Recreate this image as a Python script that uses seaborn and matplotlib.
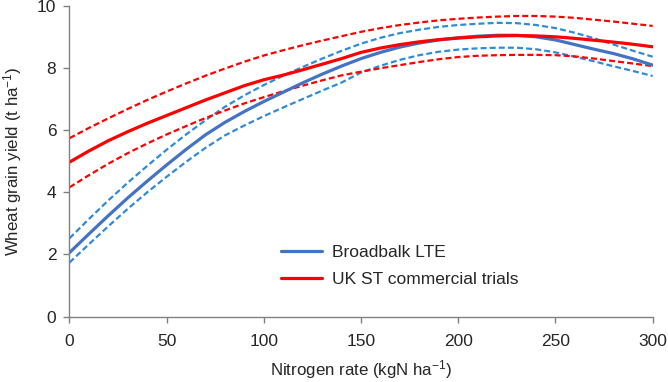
import numpy as np
import pandas as pd
import matplotlib
matplotlib.use('Agg')
import matplotlib.pyplot as plt
import seaborn as sns

# Nitrogen rate (kgN/ha) and yield curves
nitrogen = list(range(0, 301, 10))

broadbalk_mean = [2.06, 2.66, 3.25, 3.82, 4.36, 4.88, 5.38, 5.85, 6.25, 6.6,
                  6.92, 7.22, 7.52, 7.8, 8.06, 8.3, 8.5, 8.67, 8.8, 8.9,
                  8.97, 9.02, 9.05, 9.05, 9.0, 8.9, 8.75, 8.6, 8.46, 8.29, 8.09]
broadbalk_upper = [2.52, 3.14, 3.74, 4.31, 4.85, 5.37, 5.86, 6.32, 6.75, 7.12,
                   7.45, 7.75, 8.03, 8.3, 8.55, 8.78, 8.97, 9.12, 9.23, 9.32,
                   9.38, 9.42, 9.45, 9.44, 9.38, 9.28, 9.13, 8.95, 8.75, 8.55, 8.36]
broadbalk_lower = [1.74, 2.33, 2.91, 3.47, 4.0, 4.5, 4.98, 5.43, 5.83, 6.15,
                   6.45, 6.73, 7.0, 7.27, 7.53, 7.85, 8.07, 8.26, 8.41, 8.52,
                   8.59, 8.63, 8.65, 8.65, 8.6, 8.5, 8.36, 8.21, 8.05, 7.9, 7.74]

trials_mean = [4.97, 5.33, 5.66, 5.95, 6.22, 6.47, 6.72, 6.97, 7.2, 7.43,
               7.62, 7.77, 7.94, 8.12, 8.3, 8.5, 8.64, 8.75, 8.84, 8.91,
               8.96, 9.0, 9.03, 9.04, 9.03, 9.0, 8.95, 8.89, 8.83, 8.76, 8.68]
trials_upper = [5.74, 6.07, 6.38, 6.68, 6.97, 7.24, 7.5, 7.75, 7.98, 8.2,
                8.4, 8.57, 8.73, 8.88, 9.02, 9.16, 9.28, 9.38, 9.46, 9.53,
                9.58, 9.62, 9.65, 9.67, 9.67, 9.65, 9.61, 9.55, 9.49, 9.42, 9.35]
trials_lower = [4.16, 4.55, 4.92, 5.26, 5.57, 5.86, 6.13, 6.39, 6.63, 6.86,
                7.06, 7.25, 7.43, 7.6, 7.76, 7.88, 7.99, 8.09, 8.19, 8.28,
                8.35, 8.39, 8.41, 8.42, 8.42, 8.41, 8.37, 8.3, 8.22, 8.14, 8.06]

blue_solid = '#4472C4'
blue_dash = '#2F8BD8'
red = '#FF0000'

sns.set_style('ticks')
plt.rcParams['font.family'] = ['Liberation Sans', 'DejaVu Sans']
plt.rcParams['mathtext.fontset'] = 'custom'
plt.rcParams['mathtext.rm'] = 'Liberation Sans'
plt.rcParams['mathtext.it'] = 'Liberation Sans'
plt.rcParams['mathtext.default'] = 'rm'

fig = plt.figure(figsize=(6.68, 3.82), dpi=100)
ax = fig.add_axes([0.104, 0.171, 0.873, 0.814])

dash = (2.7, 1.4)
curves = [
    (broadbalk_upper, blue_dash, 1.6, dash, None),
    (broadbalk_lower, blue_dash, 1.6, dash, None),
    (trials_upper, red, 1.6, dash, None),
    (trials_lower, red, 1.6, dash, None),
    (broadbalk_mean, blue_solid, 2.3, None, 'Broadbalk LTE'),
    (trials_mean, red, 2.3, None, 'UK ST commercial trials'),
]

handles = []
for vals, col, lw, ds, lab in curves:
    df = pd.DataFrame({'N': nitrogen, 'yield': vals})
    sns.lineplot(data=df, x='N', y='yield', ax=ax, color=col, linewidth=lw,
                 legend=False)
    line = ax.lines[-1]
    if ds is not None:
        line.set_dashes(ds)
    if lab is not None:
        line.set_label(lab)
        handles.append(line)

ax.set_xlim(0, 300)
ax.set_ylim(0, 10)
ax.set_xticks([0, 50, 100, 150, 200, 250, 300])
ax.set_yticks([0, 2, 4, 6, 8, 10])
ax.set_xlabel(r'Nitrogen rate (kgN ha$^{-1}$)', fontsize=12.2, labelpad=6.5)
ax.set_ylabel(r'Wheat grain yield (t ha$^{-1}$)', fontsize=12.2, labelpad=9)
ax.tick_params(labelsize=12.5, length=4.5, width=1, color='#808080')
ax.tick_params(axis='x', pad=8)
ax.tick_params(axis='y', pad=5)
for s in ['left', 'bottom']:
    ax.spines[s].set_color('#808080')
    ax.spines[s].set_linewidth(1)
sns.despine(ax=ax)

ax.legend(handles=handles, loc='center left', bbox_to_anchor=(0.35, 0.163),
          frameon=False, fontsize=12.5, handlelength=2.4, handletextpad=0.55,
          labelspacing=0.72, borderaxespad=0)

fig.savefig('out.png', dpi=100)
